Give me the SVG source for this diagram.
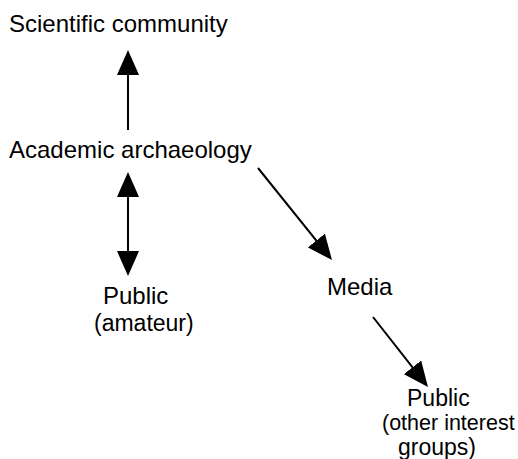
<svg xmlns="http://www.w3.org/2000/svg" width="518" height="459" viewBox="0 0 518 459">
<style>
text{font-family:"Liberation Sans",Arial,Helvetica,sans-serif;font-size:24px;fill:#000}
.s{font-size:23px}
.xs{font-size:21.5px}
.c{stroke:#000;stroke-width:2;fill:none}
</style>
<defs>
<marker id="ah" viewBox="0 0 25 22" refX="22" refY="11" markerWidth="25" markerHeight="22" markerUnits="userSpaceOnUse" orient="auto-start-reverse">
<path d="M0,0 L25,11 L0,22 Z" fill="#000"/>
</marker>
</defs>
<rect width="518" height="459" fill="#fff"/>
<g id="connectors">
<line class="c" x1="128" y1="130" x2="128" y2="53" marker-end="url(#ah)"/>
<line class="c" x1="128" y1="175" x2="128" y2="273" marker-start="url(#ah)" marker-end="url(#ah)"/>
<line class="c" x1="258" y1="168" x2="330.1" y2="257.7" marker-end="url(#ah)"/>
<line class="c" x1="373" y1="317" x2="426.1" y2="384.6" marker-end="url(#ah)"/>
</g>
<g id="scientific-community"><text x="9" y="32">Scientific community</text></g>
<g id="academic-archaeology"><text x="9" y="158">Academic archaeology</text></g>
<g id="public-amateur"><text x="103" y="304">Public</text><text x="94" y="331" class="s">(amateur)</text></g>
<g id="media"><text x="327" y="295">Media</text></g>
<g id="public-other"><text x="407" y="405.5" class="s">Public</text><text x="382" y="429.5" class="xs">(other interest</text><text x="398" y="455" class="s">groups)</text></g>
</svg>
